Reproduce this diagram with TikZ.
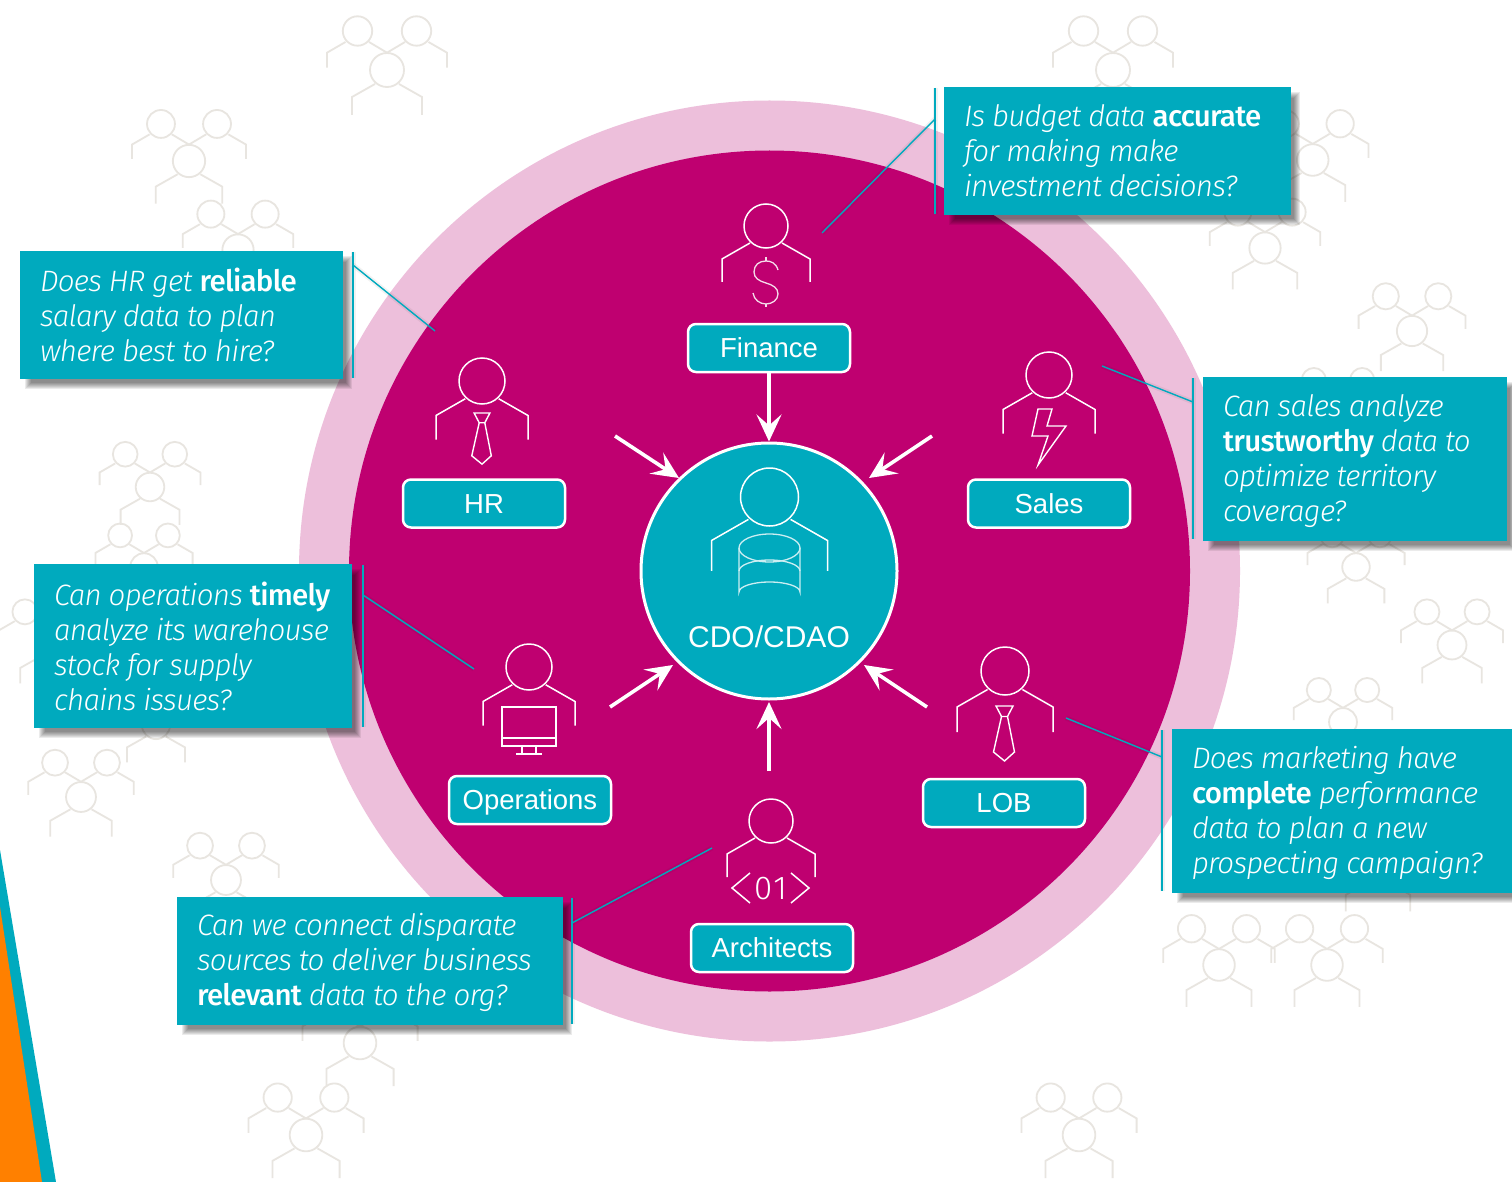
\documentclass[tikz,border=0pt]{standalone}
\usepackage{fontspec}
\usetikzlibrary{arrows.meta}
\setmainfont{Fira Sans Light}[ItalicFont={Fira Sans Light Italic},BoldFont={Fira Sans Medium},LetterSpace=-2.5]
\newfontfamily\labelfont{Liberation Sans}
\definecolor{tealc}{HTML}{00AABE}
\definecolor{magentac}{HTML}{BF0070}
\definecolor{pinkc}{HTML}{EDBFDB}
\definecolor{orangec}{HTML}{FF8000}
\definecolor{ghostc}{HTML}{E8E5E0}
\definecolor{thinw}{HTML}{F5DDEA}
\newcommand{\calloutfont}{\fontsize{29.5}{35}\selectfont\itshape}
\newcommand{\tighten}{\setlength{\spaceskip}{7pt}}
\tikzset{
  ghostline/.style={draw=ghostc,line width=1.8pt,line cap=butt},
  iconline/.style={draw=white,line width=1.5pt},
  thinline/.style={draw=thinw,line width=1.3pt},
  callout/.style={fill=tealc,text=white,inner sep=0pt,align=left,font=\calloutfont},
  rolebox/.style={draw=white,fill=tealc,text=white,line width=2.5pt,rounded corners=8pt,minimum width=162pt,minimum height=48pt,inner sep=0pt,text height=19.5pt,text depth=0pt,font=\labelfont\fontsize{27.5}{32}\selectfont},
  leader/.style={draw=tealc,line width=1.4pt},
  leadershade/.style={draw=black,opacity=0.05,line width=5pt},
  inward/.style={draw=white,line width=3.6pt,-{Stealth[length=27pt,width=25pt,inset=11pt]}},
}
\newcommand{\kw}[1]{{\bfseries\upshape #1}}
\newcommand{\topstrut}{\rule{0pt}{26pt}}
% group of three people in the background
\newcommand{\peoplegroup}[3]{%
\begin{scope}[shift={(#1,#2)},scale=#3]
  \path[ghostline] (0,0) circle[radius=17];
  \path[ghostline] (-12,14) -- (-35,27) -- (-35,45);
  \path[ghostline] (12,14) -- (35,27) -- (35,45);
  \path[ghostline] (-29.5,-39) circle[radius=14.7];
  \path[ghostline] (29.5,-39) circle[radius=14.7];
  \path[ghostline] (-41.5,-28) -- (-60,-17.3) -- (-60,-2.3);
  \path[ghostline] (41.5,-28) -- (60,-17.3) -- (60,-2.3);
  \path[ghostline] (-18,-28) -- (0,-17.3) -- (18,-28);
\end{scope}}
% person icon: centre of head x,y and radius
\newcommand{\personicon}[3]{%
\begin{scope}[shift={(#1,#2)},scale=#3/22]
  \path[iconline] (0,0) circle[radius=22];
  \path[iconline] (-16,17) -- (-44,33) -- (-44,56);
  \path[iconline] (16,17) -- (44,33) -- (44,56);
\end{scope}}
% tie, top centre x,y and scale
\newcommand{\tieicon}[3]{%
\begin{scope}[shift={(#1,#2)},scale=#3]
  \path[iconline,line width=1.4pt,line join=miter] (-8.5,0) -- (8.5,0) -- (3,10.5) -- (-3,10.5) -- cycle;
  \path[iconline,line width=1.4pt] (-3,10.5) -- (-11,46) -- (0,55) -- (10,46) -- (3,10.5);
\end{scope}}
% soft shadow below a callout
\newcommand{\softshadow}[4]{%
  \foreach \d in {0,1,...,6}{
    \fill[black,opacity=0.08] (#1+5+\d,#2+5+\d) rectangle (#3+9-\d,#4+10-\d);
  }}
\begin{document}
\begin{tikzpicture}[x=1pt,y=-1pt]
\useasboundingbox (0,0) rectangle (1512,1182);
\clip (0,0) rectangle (1512,1182);
\fill[white] (0,0) rectangle (1512,1182);
% ghost groups
\peoplegroup{387}{70}{1}
\peoplegroup{1113}{70}{1}
\peoplegroup{189}{161}{.95}
\peoplegroup{238}{250}{.92}
\peoplegroup{1312.7}{160}{.93}
\peoplegroup{1265}{248}{.92}
\peoplegroup{1412}{331}{.89}
\peoplegroup{1338}{412}{.82}
\peoplegroup{1356}{567}{.81}
\peoplegroup{1452}{645}{.85}
\peoplegroup{1343}{722}{.82}
\peoplegroup{150}{487}{.84}
\peoplegroup{144}{567}{.81}
\peoplegroup{50}{645}{.85}
\peoplegroup{156}{725}{.83}
\peoplegroup{81}{797}{.88}
\peoplegroup{226}{880}{.88}
\peoplegroup{360}{1043}{.96}
\peoplegroup{306}{1135}{.96}
\peoplegroup{1079}{1135}{.96}
\peoplegroup{1219}{965}{.93}
\peoplegroup{1327}{965}{.93}
\peoplegroup{1378}{870}{.92}
% corner wedge
\fill[tealc] (0,850) -- (56,1182) -- (0,1182) -- cycle;
\fill[orangec] (0,907) -- (42,1182) -- (0,1182) -- cycle;
% discs
\fill[pinkc] (769.5,571) circle[radius=470.5];
\fill[magentac] (769.5,571) circle[radius=420.5];
% shadows
\softshadow{944}{87}{1291}{215}
\softshadow{20}{251}{343}{379}
\softshadow{34}{564}{352}{728}
\softshadow{177}{897}{563}{1025}
\softshadow{1203}{377}{1507}{541}
\softshadow{1172}{729}{1512}{893}
% centre
\node[circle,draw=white,fill=tealc,line width=3pt,minimum size=256pt,inner sep=0pt] (cdo) at (769,571) {};
\personicon{769.5}{497}{29}
\path[thinline,draw=white!80!tealc] (739,548) arc[x radius=30.5,y radius=14,start angle=180,end angle=-180];
\path[thinline,draw=white!80!tealc] (739,548) -- (739,592) arc[x radius=30.5,y radius=10,start angle=180,end angle=360] -- (800,548);
\path[thinline,draw=white!80!tealc] (739,571) arc[x radius=30.5,y radius=11,start angle=180,end angle=360];
\node[text=white,font=\labelfont\fontsize{30}{36}\selectfont,inner sep=0pt] (cdotext) at (769,637) {CDO/CDAO};
% role icons
\personicon{766}{226}{22}
\path[thinline] (778,270) .. controls (776,263) and (771,261) .. (766,261) .. controls (759,261) and (754,265) .. (754,272) .. controls (754,278) and (759,281) .. (766,283) .. controls (773,285) and (778,288) .. (778,294) .. controls (778,300) and (772,304) .. (766,304) .. controls (760,304) and (754,300) .. (753,293);
\path[thinline] (766,257) -- (766,261);
\path[thinline] (766,304) -- (766,307);
\personicon{482}{381}{23}
\tieicon{482}{413}{.93}
\personicon{1049}{375}{23}
\path[iconline,line width=1.4pt,line join=miter] (1038,409) -- (1052,409) -- (1047,426) -- (1066,426) -- (1038,465) -- (1048,436) -- (1032,436) -- cycle;
\personicon{529}{667}{23}
\path[thinline,draw=white,line width=1.5pt] (502,707) rectangle (556,746);
\path[thinline,draw=white,line width=1.5pt] (502,738) -- (556,738);
\path[thinline,draw=white,line width=1.3pt] (522,746) -- (522,754);
\path[thinline,draw=white,line width=1.3pt] (536,746) -- (536,754);
\path[thinline,draw=white,line width=1.5pt] (516,754) -- (542,754);
\personicon{1005}{671}{24}
\tieicon{1004.5}{706}{1}
\personicon{771}{821}{22}
\path[iconline] (750,873) -- (732,888) -- (750,903);
\path[iconline] (791,873) -- (809,888) -- (791,903);
\node[text=white,font=\fontsize{33}{36}\selectfont,inner sep=0pt] (zeroone) at (770.5,889) {0\kern1pt 1};
% role boxes
\node[rolebox] (finance) at (769,348) {Finance};
\node[rolebox] (hr) at (484,503.5) {HR};
\node[rolebox] (sales) at (1049,503.5) {Sales};
\node[rolebox] (operations) at (530,800) {Operations};
\node[rolebox] (lob) at (1004,803) {LOB};
\node[rolebox] (architects) at (772,948) {Architects};
% arrows to centre
\coordinate (hrS) at (615,436); \coordinate (hrE) at (679,478);
\coordinate (saS) at (932,436); \coordinate (saE) at (869,478);
\coordinate (opS) at (610,707); \coordinate (opE) at (673,665);
\coordinate (lbS) at (927,707); \coordinate (lbE) at (864,665);
\coordinate (arS) at (769,771); \coordinate (arE) at (769,702);
\draw[inward] (finance.south -| cdo.north) -- (cdo.north);
\draw[inward] (hrS) -- (hrE);
\draw[inward] (saS) -- (saE);
\draw[inward] (opS) -- (opE);
\draw[inward] (lbS) -- (lbE);
\draw[inward] (arS) -- (arE);
% bars and leaders
\coordinate (fa) at (935,88);  \coordinate (fb) at (935,214);  \coordinate (fc) at (935,119);  \coordinate (fd) at (822,233);
\coordinate (ha) at (353,252); \coordinate (hb) at (353,378);  \coordinate (hc) at (353,265);  \coordinate (hd) at (435,331);
\coordinate (oa) at (363,565); \coordinate (ob) at (363,727);  \coordinate (oc) at (363,595);  \coordinate (od) at (474,669);
\coordinate (aa) at (572,898); \coordinate (ab) at (572,1024); \coordinate (ac) at (572,923);  \coordinate (ad) at (712,848);
\coordinate (sa) at (1193,378);\coordinate (sb) at (1193,539); \coordinate (sc) at (1193,402); \coordinate (sd) at (1102,366);
\coordinate (la) at (1162,730);\coordinate (lb) at (1162,891); \coordinate (lc) at (1162,757); \coordinate (ld) at (1066,718);
\begin{scope}[shift={(3,3)}]
\draw[leadershade] (fc) -- (fd); \draw[leadershade] (fa) -- (fb);
\draw[leadershade] (hc) -- (hd); \draw[leadershade] (ha) -- (hb);
\draw[leadershade] (oc) -- (od); \draw[leadershade] (oa) -- (ob);
\draw[leadershade] (ac) -- (ad); \draw[leadershade] (aa) -- (ab);
\draw[leadershade] (sc) -- (sd); \draw[leadershade] (sa) -- (sb);
\draw[leadershade] (lc) -- (ld); \draw[leadershade] (la) -- (lb);
\end{scope}
% callouts
\node[callout,minimum width=347pt,minimum height=128pt,text width=307pt] (qfin) at (1117.5,151) {\tighten Is budget data \kw{accurate}\\for making make\\investment decisions?};
\node[callout,minimum width=323pt,minimum height=128pt,text width=283pt] (qhr) at (181.5,315) {\tighten Does HR get \kw{reliable}\\salary data to plan\\where best to hire?};
\node[callout,minimum width=318pt,minimum height=164pt,text width=278pt] (qop) at (193,646) {\tighten\mbox{Can operations \kw{timely}}\\\mbox{analyze its warehouse}\\stock for supply\\chains issues?};
\node[callout,minimum width=386pt,minimum height=128pt,text width=346pt] (qar) at (370,961) {\tighten\topstrut Can we connect disparate\\sources to deliver business\\\kw{relevant} data to the org?};
\node[callout,minimum width=304pt,minimum height=164pt,text width=264pt] (qsa) at (1355,459) {\tighten\topstrut Can sales analyze\\\kw{trustworthy} data to\\optimize territory\\coverage?};
\node[callout,minimum width=340pt,minimum height=164pt,text width=300pt] (qlb) at (1342,811) {\tighten\topstrut Does marketing have\\\kw{complete} performance\\data to plan a new\\prospecting campaign?};
\draw[leader] (fa) -- (fb); \draw[leader] (fc) -- (fd);
\draw[leader] (ha) -- (hb); \draw[leader] (hc) -- (hd);
\draw[leader] (oa) -- (ob); \draw[leader] (oc) -- (od);
\draw[leader] (aa) -- (ab); \draw[leader] (ac) -- (ad);
\draw[leader] (sa) -- (sb); \draw[leader] (sc) -- (sd);
\draw[leader] (la) -- (lb); \draw[leader] (lc) -- (ld);
\end{tikzpicture}
\end{document}
